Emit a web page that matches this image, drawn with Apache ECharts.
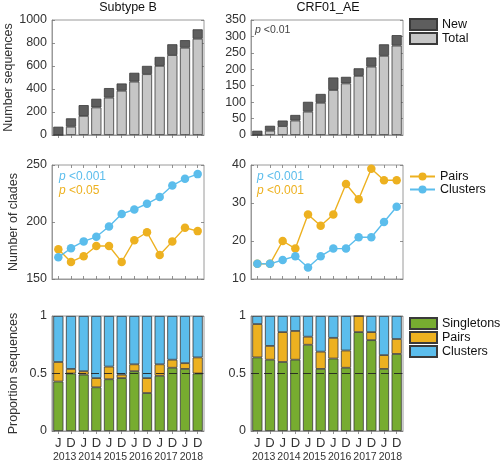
<!DOCTYPE html>
<html>
<head>
<meta charset="utf-8">
<script src="https://cdn.jsdelivr.net/npm/echarts@6/dist/echarts.min.js"></script>
<style>
  html, body { margin: 0; padding: 0; background: #fff; }
  #main { width: 500px; height: 464px; }
</style>
</head>
<body>
<div id="main"></div>
<script>
// time points (January / December of each year)
const months = ['J', 'D', 'J', 'D', 'J', 'D', 'J', 'D', 'J', 'D', 'J', 'D'];
const years = ['2013', '2014', '2015', '2016', '2017', '2018'];

// number of sequences: total (light) with the new ones stacked on top (dark)
const totalB = [0, 72, 166, 240, 325, 385, 464, 529, 601, 695, 759, 837];
const newB = [72, 73, 94, 75, 83, 63, 77, 72, 78, 94, 66, 82];
const totalAE = [0, 13, 27, 44, 71, 98, 137, 157, 180, 208, 241, 272];
const newAE = [13, 15, 17, 17, 30, 27, 38, 20, 23, 28, 35, 32];

// number of clades
const pairsB = [176, 165, 170, 179, 179, 165, 184, 191, 171, 183, 195, 192];
const clustersB = [169, 177, 183, 187, 196, 207, 211, 216, 222, 232, 238, 242];
const pairsAE = [14, 14, 20, 18, 27, 24, 27, 35, 31, 39, 36, 36];
const clustersAE = [14, 14, 15, 16, 13, 16, 18, 18, 21, 21, 25, 29];

// proportion of sequences
const singPropB = [0.43, 0.50, 0.49, 0.38, 0.45, 0.46, 0.52, 0.33, 0.48, 0.55, 0.54, 0.50];
const pairPropB = [0.17, 0.04, 0.03, 0.08, 0.11, 0.03, 0.06, 0.13, 0.10, 0.07, 0.05, 0.14];
const clusPropB = [0.40, 0.46, 0.48, 0.54, 0.44, 0.51, 0.42, 0.54, 0.42, 0.38, 0.41, 0.36];
const singPropAE = [0.64, 0.62, 0.60, 0.62, 0.75, 0.54, 0.63, 0.55, 0.86, 0.79, 0.54, 0.67];
const pairPropAE = [0.29, 0.12, 0.26, 0.25, 0.07, 0.15, 0.18, 0.15, 0.14, 0.07, 0.12, 0.13];
const clusPropAE = [0.07, 0.26, 0.14, 0.13, 0.18, 0.31, 0.19, 0.30, 0.00, 0.14, 0.34, 0.20];

const FONT = '"Liberation Sans", Arial, Helvetica, sans-serif';
const FRAME = '#9a9a9a';
const TXT = '#333';
const C_NEW = '#5e5e5e', C_TOT = '#c6c6c6';
const C_SING = '#77ac30', C_PAIR = '#edb120', C_CLUS = '#5bbdec';
const EDGE = '#3a3a3a';

const chart = echarts.init(document.getElementById('main'));

// 3 rows x 2 columns
const grids = [
  { left: 52, top: 20, width: 152, height: 115 },
  { left: 251, top: 20, width: 152, height: 115 },
  { left: 52, top: 165, width: 152, height: 114 },
  { left: 251, top: 165, width: 152, height: 114 },
  { left: 52, top: 316, width: 152, height: 115 },
  { left: 251, top: 316, width: 152, height: 115 }
].map(g => Object.assign({ show: true, borderColor: FRAME, borderWidth: 1, backgroundColor: 'transparent' }, g));

const yRanges = [
  { min: 0, max: 1000, interval: 200, name: 'Number sequences' },
  { min: 0, max: 350, interval: 50 },
  { min: 150, max: 250, interval: 50, name: 'Number of clades' },
  { min: 10, max: 40, interval: 10 },
  { min: 0, max: 1, interval: 0.5, name: 'Proportion sequences' },
  { min: 0, max: 1, interval: 0.5 }
];

const tick = { show: true, inside: true, length: 3, lineStyle: { color: '#777', width: 0.8 } };

const xAxes = [];
const yAxes = [];
for (let i = 0; i < 6; i++) {
  xAxes.push({
    gridIndex: i, type: 'category', data: months, position: 'bottom',
    axisLine: { lineStyle: { color: FRAME } },
    axisTick: Object.assign({ alignWithLabel: true, interval: 0 }, tick),
    axisLabel: { show: i >= 4, interval: 0, fontSize: 13, color: TXT, fontFamily: FONT, margin: 6 }
  });
}
for (let i = 0; i < 6; i++) {
  xAxes.push({
    gridIndex: i, type: 'category', data: months, position: 'top',
    axisLine: { show: false },
    axisTick: Object.assign({ alignWithLabel: true, interval: 0 }, tick),
    axisLabel: { show: false }
  });
}
[4, 5].forEach(i => xAxes.push({
  gridIndex: i, type: 'category', data: years, position: 'bottom', offset: 15,
  axisLine: { show: false }, axisTick: { show: false },
  axisLabel: { interval: 0, fontSize: 10.5, color: TXT, fontFamily: FONT, margin: 6 }
}));

for (let i = 0; i < 6; i++) {
  const r = yRanges[i];
  yAxes.push({
    gridIndex: i, type: 'value', min: r.min, max: r.max, interval: r.interval,
    name: r.name || '', nameLocation: 'middle', nameGap: 32,
    nameTextStyle: { fontSize: 12.5, color: TXT, fontFamily: FONT },
    axisLine: { show: true, lineStyle: { color: FRAME } },
    axisTick: tick, splitLine: { show: false },
    axisLabel: { fontSize: 12.5, color: TXT, fontFamily: FONT, margin: 5, formatter: v => String(v) }
  });
}
for (let i = 0; i < 6; i++) {
  const r = yRanges[i];
  yAxes.push({
    gridIndex: i, type: 'value', position: 'right', min: r.min, max: r.max, interval: r.interval,
    axisLine: { show: false }, axisTick: tick, splitLine: { show: false }, axisLabel: { show: false }
  });
}

function bar(name, idx, data, color, stack) {
  return {
    name, type: 'bar', xAxisIndex: idx, yAxisIndex: idx, stack, data,
    barWidth: '80%', itemStyle: { color, borderColor: EDGE, borderWidth: 0.8 },
    emphasis: { disabled: true }
  };
}
function line(name, idx, data, color) {
  return {
    name, type: 'line', xAxisIndex: idx, yAxisIndex: idx, data,
    symbol: 'circle', symbolSize: 8.5, showSymbol: true, showAllSymbol: true, color,
    lineStyle: { width: 1.4, color }, itemStyle: { color },
    emphasis: { disabled: true }
  };
}
const half = {
  silent: true, symbol: 'none', label: { show: false },
  lineStyle: { color: '#222', type: [8, 5], width: 0.9 },
  data: [{ yAxis: 0.5 }]
};

const series = [
  bar('Total', 0, totalB, C_TOT, 'n0'), bar('New', 0, newB, C_NEW, 'n0'),
  bar('Total', 1, totalAE, C_TOT, 'n1'), bar('New', 1, newAE, C_NEW, 'n1'),
  line('Pairs', 2, pairsB, C_PAIR), line('Clusters', 2, clustersB, C_CLUS),
  line('Pairs', 3, pairsAE, C_PAIR), line('Clusters', 3, clustersAE, C_CLUS),
  bar('Singletons', 4, singPropB, C_SING, 'p4'),
  bar('Pairs share', 4, pairPropB, C_PAIR, 'p4'),
  Object.assign(bar('Clusters share', 4, clusPropB, C_CLUS, 'p4'), { markLine: half }),
  bar('Singletons', 5, singPropAE, C_SING, 'p5'),
  bar('Pairs share', 5, pairPropAE, C_PAIR, 'p5'),
  Object.assign(bar('Clusters share', 5, clusPropAE, C_CLUS, 'p5'), { markLine: half })
];

const legendText = { fontSize: 12.5, color: '#111', fontFamily: FONT };

function pText(x, y, value, color, size) {
  return {
    type: 'text', x, y, silent: true,
    style: {
      text: '{i|p} <' + value, fill: color, font: size + 'px ' + FONT, textVerticalAlign: 'middle',
      rich: { i: { fontStyle: 'italic', fontSize: size, fontFamily: FONT, fill: color } }
    }
  };
}

chart.setOption({
  animation: false,
  textStyle: { fontFamily: FONT },
  grid: grids,
  xAxis: xAxes,
  yAxis: yAxes,
  legend: [
    {
      data: ['New', 'Total'], orient: 'vertical', left: 409, top: 18, padding: 0, icon: 'rect',
      itemWidth: 27, itemHeight: 11, itemGap: 1, textStyle: legendText, selectedMode: false
    },
    {
      data: ['Pairs', 'Clusters'], orient: 'vertical', left: 409, top: 170, padding: 0,
      itemWidth: 25, itemHeight: 10, itemGap: 0, textStyle: legendText, selectedMode: false
    },
    {
      data: ['Singletons', 'Pairs share', 'Clusters share'], orient: 'vertical', left: 409, top: 317, padding: 0,
      icon: 'rect', itemWidth: 27, itemHeight: 11, itemGap: 1, textStyle: legendText, selectedMode: false,
      formatter: n => n.split(' ')[0]
    }
  ],
  graphic: [
    { type: 'text', x: 128, y: 8, silent: true,
      style: { text: 'Subtype B', font: '12.5px ' + FONT, fill: '#111', textAlign: 'center', textVerticalAlign: 'middle' } },
    { type: 'text', x: 328, y: 8, silent: true,
      style: { text: 'CRF01_AE', font: '12.5px ' + FONT, fill: '#111', textAlign: 'center', textVerticalAlign: 'middle' } },
    pText(255, 30, '0.01', '#444', 10.5),
    pText(59, 177, '0.001', C_CLUS, 12),
    pText(59, 191, '0.05', C_PAIR, 12),
    pText(257, 177, '0.001', C_CLUS, 12),
    pText(257, 191, '0.001', C_PAIR, 12)
  ],
  series
});
</script>
</body>
</html>
